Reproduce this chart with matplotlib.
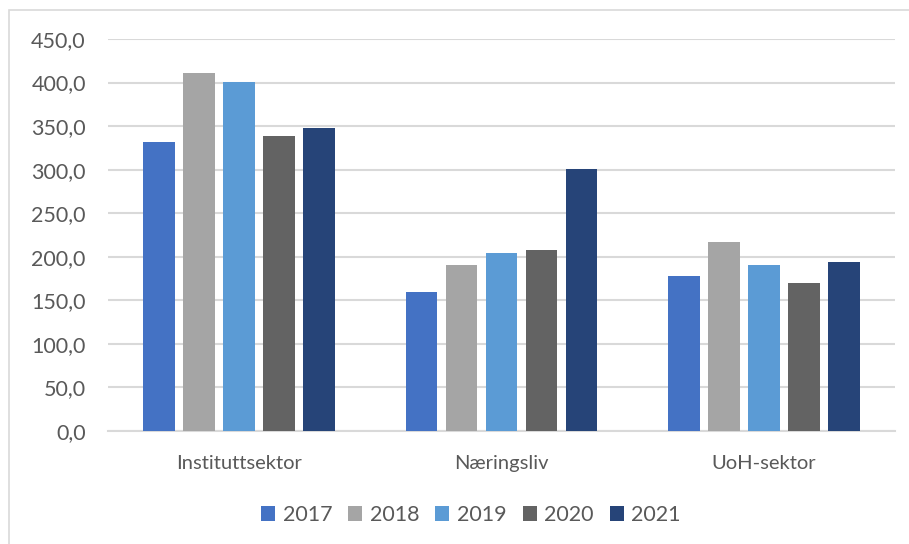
import numpy as np
import matplotlib.pyplot as plt
from matplotlib.patches import Rectangle

categories = ['Instituttsektor', 'Næringsliv', 'UoH-sektor']
years = ['2017', '2018', '2019', '2020', '2021']
values_2017 = [331.8, 159.0, 178.3]
values_2018 = [411.4, 190.6, 216.6]
values_2019 = [400.7, 204.7, 190.6]
values_2020 = [338.7, 208.2, 169.5]
values_2021 = [348.0, 300.4, 193.7]
yticks = [0, 50, 100, 150, 200, 250, 300, 350, 400, 450]

series = [values_2017, values_2018, values_2019, values_2020, values_2021]
colors = ['#4472c4', '#a5a5a5', '#5b9bd5', '#636363', '#264478']
text_color = '#595959'
grid_color = '#d9d9d9'

plt.rcParams['font.family'] = ['Lato', 'DejaVu Sans']

fig = plt.figure(figsize=(9.09, 5.44), dpi=100)
# light chart border like excel
fig.patches.append(Rectangle((9/909, -0.1), 1.2, 1 - 10.5/544 + 0.1, transform=fig.transFigure,
                             fill=False, edgecolor=grid_color, linewidth=1.2))
ax = fig.add_axes([108/909, 1 - 431/544, 787/909, 392/544])

x = np.arange(len(categories))
step = 40 / 262
width = 31.5 / 262
for i, (vals, c, yr) in enumerate(zip(series, colors, years)):
    ax.bar(x + (i - 2) * step, vals, width=width, color=c, label=yr, zorder=3)

ax.set_xlim(-0.5, 2.5)
ax.set_ylim(0, 450)
ax.set_yticks(yticks)
ax.set_yticklabels([f'{v:.1f}'.replace('.', ',') for v in yticks], fontsize=15.5)
ax.set_xticks(x)
ax.set_xticklabels(categories, fontsize=14.5)
ax.yaxis.grid(True, color=grid_color, linewidth=1.5, zorder=0)
for s in ['top', 'right', 'left']:
    ax.spines[s].set_visible(False)
ax.spines['bottom'].set_color(grid_color)
ax.spines['bottom'].set_linewidth(1.5)
ax.tick_params(axis='both', length=0, colors=text_color)
ax.tick_params(axis='y', pad=16)
ax.tick_params(axis='x', pad=17)

leg = fig.legend(loc='center', bbox_to_anchor=(471/909, 1 - 515/544), ncol=5, frameon=False,
                 fontsize=15.5, handlelength=0.65, handleheight=0.65, handletextpad=0.35,
                 columnspacing=0.75, labelcolor=text_color)

fig.savefig('out.png', dpi=100)
